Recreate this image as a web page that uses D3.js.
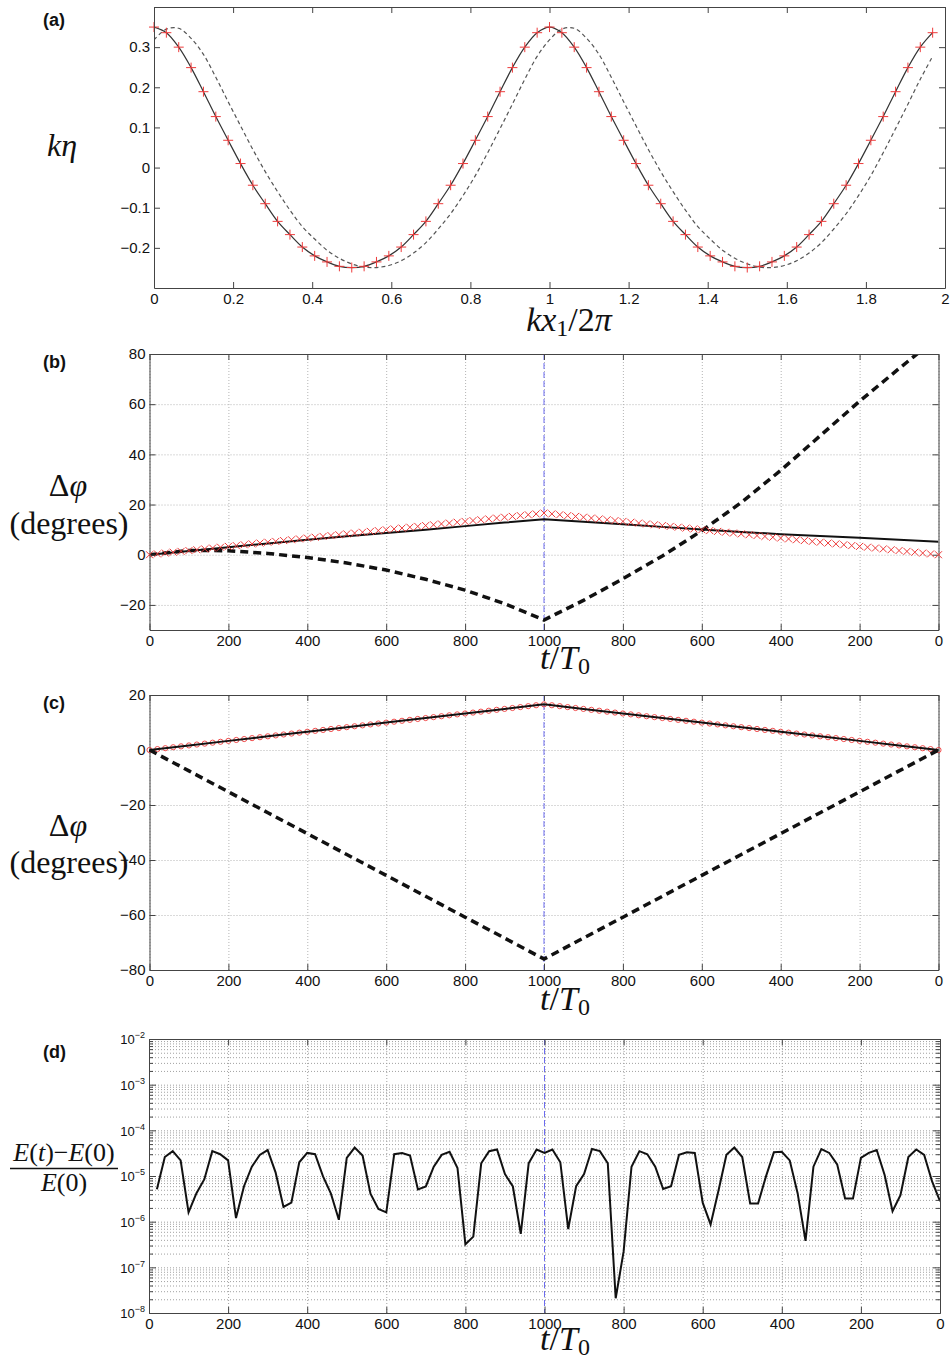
<!DOCTYPE html>
<html>
<head>
<meta charset="utf-8">
<script src="https://cdn.jsdelivr.net/npm/d3@7"></script>
<style>
  body { margin: 0; background: #fff; }
  svg { display: block; }
  .tick text { font-family: "Liberation Sans", Arial, sans-serif; font-size: 15px; fill: #111; }
  .axis path, .axis line { stroke: #444; }
  .grid line { stroke: #b4b4b4; stroke-dasharray: 1,2; }
  .grid path { display: none; }
  .dense .grid line { stroke: #a0a0a0; stroke-dasharray: 1,2; }
  .math { font-family: "Liberation Serif", "Times New Roman", serif; fill: #111; }
  .tag { font-family: "Liberation Sans", Arial, sans-serif; font-weight: bold; font-size: 18px; fill: #111; }
</style>
</head>
<body>
<div id="chart"></div>
<script>
// ---- data ----

// (a) surface elevation k*eta against kx1/2pi
const waveX = d3.range(64).map(i => i / 32);
const waveNumeric = [
  0.350, 0.336, 0.300, 0.249, 0.189, 0.127, 0.068, 0.010, -0.044, -0.090, -0.134, -0.167, -0.198, -0.220, -0.235, -0.246,
  -0.249, -0.246, -0.235, -0.220, -0.198, -0.167, -0.134, -0.090, -0.044, 0.010, 0.068, 0.127, 0.189, 0.249, 0.300, 0.336,
  0.350, 0.336, 0.300, 0.249, 0.189, 0.127, 0.068, 0.010, -0.044, -0.090, -0.134, -0.167, -0.198, -0.220, -0.235, -0.246,
  -0.249, -0.246, -0.235, -0.220, -0.198, -0.167, -0.134, -0.090, -0.044, 0.010, 0.068, 0.127, 0.189, 0.249, 0.300, 0.336
];
const waveLinear = [
  0.318, 0.345, 0.347, 0.322, 0.282, 0.225, 0.164, 0.104, 0.045, -0.010, -0.060, -0.106, -0.147, -0.178, -0.206, -0.226,
  -0.240, -0.248, -0.249, -0.244, -0.232, -0.213, -0.187, -0.153, -0.115, -0.070, -0.020, 0.037, 0.097, 0.158, 0.220, 0.277,
  0.318, 0.345, 0.347, 0.322, 0.282, 0.225, 0.164, 0.104, 0.045, -0.010, -0.060, -0.106, -0.147, -0.178, -0.206, -0.226,
  -0.240, -0.248, -0.249, -0.244, -0.232, -0.213, -0.187, -0.153, -0.115, -0.070, -0.020, 0.037, 0.097, 0.158, 0.220, 0.277
];
const waveAxisTicks = [0, 0.2, 0.4, 0.6, 0.8, 1, 1.2, 1.4, 1.6, 1.8, 2];
const etaTicks = [-0.2, -0.1, 0, 0.1, 0.2, 0.3];

// (b), (c) phase error in degrees, forward run to 1000 T0 then back
const timeTicks = [0, 200, 400, 600, 800, 1000, 1200, 1400, 1600, 1800, 2000];
const timeTickLabels = ["0", "200", "400", "600", "800", "1000", "800", "600", "400", "200", "0"];
const tMarks = d3.range(0, 2001, 20);
const phaseExact = [
  0, 0.33, 0.66, 1.00, 1.33, 1.66, 1.99, 2.32, 2.66, 2.99, 3.32, 3.65, 3.98, 4.32, 4.65, 4.98, 5.31,
  5.64, 5.98, 6.31, 6.64, 6.97, 7.30, 7.64, 7.97, 8.30, 8.63, 8.96, 9.30, 9.63, 9.96, 10.29, 10.62,
  10.96, 11.29, 11.62, 11.95, 12.28, 12.62, 12.95, 13.28, 13.61, 13.94, 14.28, 14.61, 14.94, 15.27, 15.60,
  15.94, 16.27, 16.60,
  16.27, 15.94, 15.60, 15.27, 14.94, 14.61, 14.28, 13.94, 13.61, 13.28, 12.95, 12.62, 12.28, 11.95, 11.62,
  11.29, 10.96, 10.62, 10.29, 9.96, 9.63, 9.30, 8.96, 8.63, 8.30, 7.97, 7.64, 7.30, 6.97, 6.64, 6.31,
  5.98, 5.64, 5.31, 4.98, 4.65, 4.32, 3.98, 3.65, 3.32, 2.99, 2.66, 2.32, 1.99, 1.66, 1.33, 1.00, 0.66, 0.33, 0
];
const tLine = d3.range(0, 2001, 100);
const phaseBSolid = [0, 1.5, 3.0, 4.5, 6.0, 7.4, 8.7, 10.0, 11.4, 12.8, 14.1, 13.1, 12.1, 11.1, 10.1, 9.1, 8.2, 7.5, 6.8, 6.0, 5.2];
const phaseBDashed = [0, 1.7, 1.6, 0.5, -1.1, -3.3, -6.1, -9.8, -14.1, -19.5, -26.0, -18.2, -9.6, -0.5, 9.6, 20.8, 33.6, 47.4, 61.2, 74.2, 87.0];
const phaseCSolid = [0, 1.66, 3.32, 4.98, 6.64, 8.30, 9.96, 11.62, 13.28, 14.94, 16.6, 14.94, 13.28, 11.62, 9.96, 8.30, 6.64, 4.98, 3.32, 1.66, 0];
const phaseCDashed = [0, -7.6, -15.2, -22.8, -30.4, -38.0, -45.6, -53.2, -60.8, -68.4, -76.0, -68.4, -60.8, -53.2, -45.6, -38.0, -30.4, -22.8, -15.2, -7.6, 0];
const phaseBTicks = [-20, 0, 20, 40, 60, 80];
const phaseCTicks = [-80, -60, -40, -20, 0, 20];

// (d) relative energy error
const tEnergy = d3.range(20, 2001, 20);
const energyError = [
  5.1e-6, 2.6e-5, 3.5e-5, 2.2e-5, 1.6e-6, 4.2e-6, 8.5e-6, 3.5e-5, 3.0e-5, 2.2e-5,
  1.2e-6, 5.9e-6, 1.6e-5, 2.9e-5, 3.7e-5, 1.2e-5, 2.1e-6, 2.6e-6, 2.0e-5, 3.2e-5,
  3.0e-5, 9.8e-6, 4.1e-6, 1.1e-6, 2.5e-5, 4.2e-5, 2.8e-5, 4.1e-6, 1.9e-6, 1.6e-6,
  3.0e-5, 3.2e-5, 2.8e-5, 5.1e-6, 5.9e-6, 1.6e-5, 2.9e-5, 3.4e-5, 1.5e-5, 3.2e-7,
  4.7e-7, 1.9e-5, 3.5e-5, 3.8e-5, 1.1e-5, 5.9e-6, 5.4e-7, 1.9e-5, 3.8e-5, 3.2e-5,
  3.8e-5, 2.0e-5, 6.9e-7, 6.0e-6, 1.1e-5, 3.9e-5, 3.5e-5, 1.9e-5, 2.1e-8, 2.2e-7,
  1.6e-5, 3.5e-5, 3.0e-5, 1.6e-5, 5.2e-6, 6.0e-6, 2.9e-5, 3.3e-5, 3.2e-5, 2.6e-6,
  8.7e-7, 4.8e-6, 2.9e-5, 4.2e-5, 2.6e-5, 2.5e-6, 2.5e-6, 9.8e-6, 3.3e-5, 3.4e-5,
  2.2e-5, 4.2e-6, 3.8e-7, 1.6e-5, 3.9e-5, 3.2e-5, 1.8e-5, 3.2e-6, 3.2e-6, 2.5e-5,
  3.2e-5, 3.7e-5, 1.05e-5, 1.7e-6, 3.8e-6, 2.6e-5, 3.8e-5, 2.9e-5, 7.6e-6, 2.8e-6
];
const energyTicks = [1e-8, 1e-7, 1e-6, 1e-5, 1e-4, 1e-3, 1e-2];

// ---- drawing ----
const svg = d3.select("#chart")
  .append("svg")
    .attr("width", 951)
    .attr("height", 1359);

const RED = "#ee3b3b";
const zip = (xs, ys) => xs.map((x, i) => [x, ys[i]]);

// MATLAB-style box: inward ticks on all four sides, labels bottom/left only
function drawPanel(box, x, y, o) {
  const w = box.right - box.left, h = box.bottom - box.top;
  x.range([0, w]);
  y.range([h, 0]);
  const g = svg.append("g").attr("transform", `translate(${box.left},${box.top})`);
  if (o.dense) g.attr("class", "dense");

  if (o.grid) {
    g.append("g").attr("class", "grid").attr("transform", `translate(0,${h})`)
      .call(d3.axisBottom(x).tickValues(o.xTicks).tickSize(-h).tickFormat(""));
    g.append("g").attr("class", "grid")
      .call(d3.axisLeft(y).tickValues(o.yGrid || o.yTicks).tickSize(-w).tickFormat(""));
  }

  g.append("clipPath").attr("id", "clip-" + o.name)
    .append("rect").attr("width", w).attr("height", h);
  const clipped = g.append("g").attr("clip-path", `url(#clip-${o.name})`);
  const marks = g.append("g");

  const axes = g.append("g");
  axes.append("g").attr("class", "axis").attr("transform", `translate(0,${h})`)
    .call(d3.axisBottom(x).tickValues(o.xTicks).tickFormat(o.xFormat)
      .tickSize(-6).tickSizeOuter(0).tickPadding(5));
  axes.append("g").attr("class", "axis")
    .call(d3.axisTop(x).tickValues(o.xTicks).tickFormat("").tickSize(-6).tickSizeOuter(0));
  const left = axes.append("g").attr("class", "axis")
    .call(d3.axisLeft(y).tickValues(o.yTicks).tickFormat(o.yFormat)
      .tickSize(-(o.yTickLen || 6)).tickSizeOuter(0).tickPadding(4));
  axes.append("g").attr("class", "axis").attr("transform", `translate(${w},0)`)
    .call(d3.axisRight(y).tickValues(o.yTicks).tickFormat("").tickSize(-(o.yTickLen || 6)).tickSizeOuter(0));

  return { g, clipped, marks, axes, left, w, h };
}

// text made of roman / italic / subscript pieces
function mathText(x, y, parts, size) {
  const t = svg.append("text").attr("class", "math")
    .attr("x", x).attr("y", y)
    .attr("text-anchor", "middle")
    .attr("font-size", size);
  let shift = 0;
  parts.forEach(p => {
    const s = t.append("tspan").text(p.t).attr("font-style", p.i ? "italic" : "normal");
    const target = p.sub ? Math.round(size * 0.14) : 0;
    if (target !== shift) s.attr("dy", target - shift);
    shift = target;
    if (p.sub) s.attr("font-size", Math.round(size * 0.7));
  });
  return t;
}

function tag(label, y) {
  svg.append("text").attr("class", "tag").attr("x", 43).attr("y", y).text(label);
}

const timeFormat = (d, i) => timeTickLabels[i];

// ---------- (a) ----------
const xA = d3.scaleLinear().domain([0, 2]);
const yA = d3.scaleLinear().domain([-0.3, 0.4]);
const A = drawPanel({ left: 154, top: 7, right: 945, bottom: 288 }, xA, yA, {
  name: "a", xTicks: waveAxisTicks, yTicks: etaTicks,
  xFormat: d3.format("~g"), yFormat: d3.format("~g")
});
const lineA = d3.line().x(d => xA(d[0])).y(d => yA(d[1])).curve(d3.curveCatmullRom);
A.clipped.append("path").datum(zip(waveX, waveLinear))
  .attr("d", lineA).attr("fill", "none")
  .attr("stroke", "#555").attr("stroke-width", 1.2).attr("stroke-dasharray", "4,3");
A.clipped.append("path").datum(zip(waveX, waveNumeric))
  .attr("d", lineA).attr("fill", "none")
  .attr("stroke", "#333").attr("stroke-width", 1.2);
A.marks.selectAll("path").data(zip(waveX, waveNumeric)).join("path")
  .attr("transform", d => `translate(${xA(d[0])},${yA(d[1])})`)
  .attr("d", "M-5,0H5M0,-5V5")
  .attr("stroke", RED).attr("stroke-width", 1);

tag("(a)", 26);
mathText(62, 156, [{ t: "k", i: 1 }, { t: "η", i: 1 }], 32);
mathText(569, 331, [{ t: "k", i: 1 }, { t: "x", i: 1 }, { t: "1", sub: 1 }, { t: "/2" }, { t: "π", i: 1 }], 34);

// ---------- (b) ----------
const xB = d3.scaleLinear().domain([0, 2000]);
const yB = d3.scaleLinear().domain([-30, 80]);
const B = drawPanel({ left: 149.5, top: 354, right: 938.5, bottom: 630 }, xB, yB, {
  name: "b", grid: true, xTicks: timeTicks, yTicks: phaseBTicks,
  xFormat: timeFormat, yFormat: d3.format("~g")
});
const lineB = d3.line().x(d => xB(d[0])).y(d => yB(d[1]));
B.clipped.append("line")
  .attr("x1", xB(1000)).attr("x2", xB(1000)).attr("y1", 0).attr("y2", B.h)
  .attr("stroke", "#6b6bf0").attr("stroke-width", 1).attr("stroke-dasharray", "6,3");
B.marks.selectAll("path").data(zip(tMarks, phaseExact)).join("path")
  .attr("transform", d => `translate(${xB(d[0])},${yB(d[1])})`)
  .attr("d", "M-3.5,-3.5L3.5,3.5M-3.5,3.5L3.5,-3.5")
  .attr("stroke", RED).attr("stroke-width", 1).attr("fill", "none");
B.clipped.append("path").datum(zip(tLine, phaseBSolid))
  .attr("d", lineB).attr("fill", "none").attr("stroke", "#111").attr("stroke-width", 2);
B.clipped.append("path").datum(zip(tLine, phaseBDashed))
  .attr("d", lineB).attr("fill", "none").attr("stroke", "#111")
  .attr("stroke-width", 3.5).attr("stroke-dasharray", "8,5");
B.marks.raise();

tag("(b)", 368);
mathText(68, 496, [{ t: "Δ" }, { t: "φ", i: 1 }], 32);
mathText(69, 534, [{ t: "(degrees)" }], 32);
mathText(565, 669, [{ t: "t", i: 1 }, { t: "/" }, { t: "T", i: 1 }, { t: "0", sub: 1 }], 34);

// ---------- (c) ----------
const xC = d3.scaleLinear().domain([0, 2000]);
const yC = d3.scaleLinear().domain([-80, 20]);
const C = drawPanel({ left: 149.5, top: 695, right: 938.5, bottom: 970 }, xC, yC, {
  name: "c", grid: true, xTicks: timeTicks, yTicks: phaseCTicks,
  xFormat: timeFormat, yFormat: d3.format("~g")
});
const lineC = d3.line().x(d => xC(d[0])).y(d => yC(d[1]));
C.clipped.append("line")
  .attr("x1", xC(1000)).attr("x2", xC(1000)).attr("y1", 0).attr("y2", C.h)
  .attr("stroke", "#6b6bf0").attr("stroke-width", 1).attr("stroke-dasharray", "6,3");
C.marks.selectAll("circle").data(zip(tMarks, phaseExact)).join("circle")
  .attr("cx", d => xC(d[0])).attr("cy", d => yC(d[1])).attr("r", 2.6)
  .attr("fill", "none").attr("stroke", RED).attr("stroke-width", 0.9);
C.marks.raise();
C.g.append("path").datum(zip(tLine, phaseCSolid))
  .attr("d", lineC).attr("fill", "none").attr("stroke", "#111").attr("stroke-width", 2);
C.g.append("path").datum(zip(tLine, phaseCDashed))
  .attr("d", lineC).attr("fill", "none").attr("stroke", "#111")
  .attr("stroke-width", 3.5).attr("stroke-dasharray", "8,5");

tag("(c)", 709);
mathText(68, 836, [{ t: "Δ" }, { t: "φ", i: 1 }], 32);
mathText(69, 873, [{ t: "(degrees)" }], 32);
mathText(565, 1010, [{ t: "t", i: 1 }, { t: "/" }, { t: "T", i: 1 }, { t: "0", sub: 1 }], 34);

// ---------- (d) ----------
const xD = d3.scaleLinear().domain([0, 2000]);
const yD = d3.scaleLog().domain([1e-8, 1e-2]);
const D = drawPanel({ left: 149, top: 1039, right: 940, bottom: 1313 }, xD, yD, {
  name: "d", grid: true, dense: true, xTicks: timeTicks, yTicks: energyTicks,
  yGrid: yD.ticks(), yTickLen: 7,
  xFormat: timeFormat, yFormat: () => ""
});
// power-of-ten labels
D.left.selectAll(".tick text").each(function(d) {
  const t = d3.select(this);
  t.append("tspan").attr("font-size", 13).text("10");
  t.append("tspan").attr("font-size", 9).attr("dy", -6)
    .text(d3.format("d")(Math.round(Math.log10(d))));
});
// minor ticks between decades
const minorTicks = yD.ticks().filter(v => !energyTicks.some(e => Math.abs(v / e - 1) < 1e-9));
D.axes.append("g").attr("class", "axis")
  .call(d3.axisLeft(yD).tickValues(minorTicks).tickFormat("").tickSize(-4).tickSizeOuter(0));
D.axes.append("g").attr("class", "axis").attr("transform", `translate(${D.w},0)`)
  .call(d3.axisRight(yD).tickValues(minorTicks).tickFormat("").tickSize(-4).tickSizeOuter(0));

const lineD = d3.line().x(d => xD(d[0])).y(d => yD(d[1]));
D.clipped.append("line")
  .attr("x1", xD(1000)).attr("x2", xD(1000)).attr("y1", 0).attr("y2", D.h)
  .attr("stroke", "#6b6bf0").attr("stroke-width", 1).attr("stroke-dasharray", "6,3");
D.clipped.append("path").datum(zip(tEnergy, energyError))
  .attr("d", lineD).attr("fill", "none").attr("stroke", "#111").attr("stroke-width", 2);

tag("(d)", 1058);
mathText(64, 1161, [{ t: "E", i: 1 }, { t: "(" }, { t: "t", i: 1 }, { t: ")−" }, { t: "E", i: 1 }, { t: "(0)" }], 26);
svg.append("line").attr("x1", 10).attr("x2", 118).attr("y1", 1168.5).attr("y2", 1168.5)
  .attr("stroke", "#111").attr("stroke-width", 1.5);
mathText(64, 1191, [{ t: "E", i: 1 }, { t: "(0)" }], 26);
mathText(565, 1350, [{ t: "t", i: 1 }, { t: "/" }, { t: "T", i: 1 }, { t: "0", sub: 1 }], 34);
</script>
</body>
</html>
